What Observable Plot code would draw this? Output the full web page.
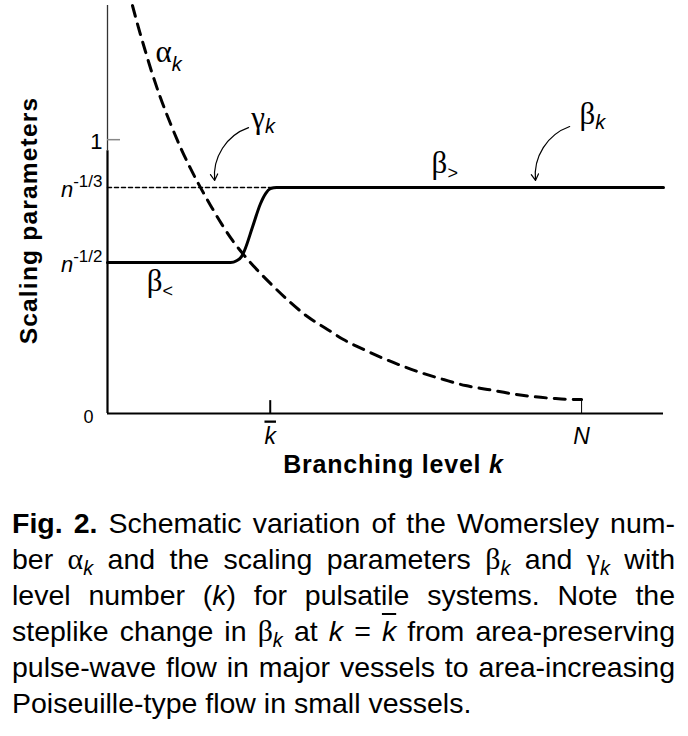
<!DOCTYPE html>
<html>
<head>
<meta charset="utf-8">
<script src="https://cdn.jsdelivr.net/npm/d3@7"></script>
<script src="https://cdn.jsdelivr.net/npm/@observablehq/plot@0.6"></script>
<style>
  html, body { margin: 0; padding: 0; background: #fff; overflow: hidden; }
  #chart { position: absolute; left: 0; top: 0; }
  #chart svg { display: block; }
  #caption { position: absolute; left: 12px; top: 505px; font-family: "Liberation Sans", Arial, sans-serif; font-size: 28.5px; color: #000; }
  #caption .ln { width: 663px; height: 36px; line-height: 36px; white-space: nowrap; text-align: justify; text-align-last: justify; transform-origin: 0 0; }
  #caption .ln.last { text-align-last: left; }
  #caption .gk { font-family: "Liberation Serif", serif; font-size: 1.05em; }
  #caption sub { font-size: 0.7em; font-style: italic; vertical-align: -0.28em; line-height: 0; }
  #caption .ov { text-decoration: overline; font-style: italic; }
  #caption b { font-weight: bold; }
</style>
</head>
<body>
<div id="chart"></div>
<div id="caption">
  <div class="ln"><b>Fig. 2.</b> Schematic variation of the Womersley num-</div>
  <div class="ln">ber <span class="gk">α</span><sub>k</sub> and the scaling parameters <span class="gk">β</span><sub>k</sub> and <span class="gk">γ</span><sub>k</sub> with</div>
  <div class="ln">level number (<i>k</i>) for pulsatile systems. Note the</div>
  <div class="ln">steplike change in <span class="gk">β</span><sub>k</sub> at <i>k</i> = <span class="ov">k</span> from area-preserving</div>
  <div class="ln">pulse-wave flow in major vessels to area-increasing</div>
  <div class="ln last">Poiseuille-type flow in small vessels.</div>
</div>
<script>
// ---- data (schematic values) ----
const alphaK = [0.92, 1.14, 1.40, 1.66, 1.95, 2.32, 2.69, 3.06, 3.43, 3.80, 4.24, 4.61, 5.01, 5.57, 6.12, 6.75, 7.37, 8.11, 8.70, 9.44, 10.18, 10.91, 11.65, 12.39, 13.20, 14.01, 14.86, 15.67, 16.45, 17.26, 17.48];
const alphaV = [1.490, 1.410, 1.322, 1.238, 1.154, 1.059, 0.972, 0.895, 0.825, 0.760, 0.687, 0.632, 0.581, 0.519, 0.464, 0.405, 0.354, 0.307, 0.270, 0.234, 0.201, 0.172, 0.146, 0.124, 0.102, 0.088, 0.073, 0.062, 0.055, 0.051, 0.051];
const betaK = [0, 4.54, 4.76, 4.94, 5.05, 5.35, 5.64, 5.83, 6.01, 6.24, 20.5];
const betaV = [0.551, 0.551, 0.558, 0.573, 0.595, 0.682, 0.766, 0.803, 0.821, 0.825, 0.825];
const gammaK = [0, 6.24];
const gammaV = [0.825, 0.825];

const kbar = 6.0;
const levelN = 17.48;
const xMax = 20.5;
const yMax = 1.49;

const yTickValues = [0.551, 0.825, 1];
const yTickLabels = ["*n*^{-1/2}", "*n*^{-1/3}", "1"];
const zeroLabel = "0";
const xTickValues = [kbar, levelN];
const xTickLabels = ["~{*k*}", "*N*"];

const curveLabels = ["α_{*k*}", "γ_{*k*}", "β_{*k*}", "β_{>}", "β_{<}"];
const curveLabelK = [1.77, 5.30, 17.40, 11.95, 1.45];
const curveLabelV = [1.282, 1.041, 1.056, 0.880, 0.446];

const arrowFromK = [5.20, 17.04];
const arrowFromV = [1.044, 1.048];
const arrowToK = [3.95, 15.78];
const arrowToV = [0.851, 0.851];

const xTitle = "Branching level *k*";
const yTitle = "Scaling parameters";

// ---- tables ----
const alpha = alphaK.map((k, i) => ({k, v: alphaV[i]}));
const beta = betaK.map((k, i) => ({k, v: betaV[i]}));
const gamma = gammaK.map((k, i) => ({k, v: gammaV[i]}));
const yTicks = yTickValues.map((v, i) => ({v, label: yTickLabels[i]}));
const xTicks = xTickValues.map((k, i) => ({k, label: xTickLabels[i]}));
const labels = curveLabels.map((t, i) => ({t, k: curveLabelK[i], v: curveLabelV[i]}));
const arrows = arrowFromK.map((k, i) => ({k1: k, v1: arrowFromV[i], k2: arrowToK[i], v2: arrowToV[i]}));

const chart = Plot.plot({
  width: 688,
  height: 490,
  marginLeft: 107,
  marginRight: 25,
  marginTop: 5,
  marginBottom: 77,
  x: {domain: [0, xMax], axis: null},
  y: {domain: [0, yMax], axis: null},
  style: {fontFamily: "Liberation Sans, Arial, sans-serif", background: "white", color: "black"},
  marks: [
    Plot.ruleY([0], {x1: 0, x2: xMax, stroke: "black", strokeWidth: 2}),
    Plot.ruleX([0], {y1: 0, y2: 0.96, stroke: "black", strokeWidth: 2.2}),
    Plot.ruleX([0], {y1: 0.96, y2: yMax, stroke: "#333", strokeWidth: 1.3}),
    Plot.ruleY([1], {x1: 0, x2: 0.48, stroke: "#888", strokeWidth: 1.5}),
    Plot.ruleX([kbar], {y1: 0, y2: 0.047, stroke: "black", strokeWidth: 2}),
    Plot.ruleX([levelN], {y1: 0, y2: 0.051, stroke: "black", strokeWidth: 1}),
    Plot.line(gamma, {x: "k", y: "v", stroke: "black", strokeWidth: 1.5, strokeDasharray: "4,3"}),
    Plot.line(alpha, {x: "k", y: "v", curve: "monotone-x", stroke: "black", strokeWidth: 3, strokeDasharray: "11,8"}),
    Plot.line(beta, {x: "k", y: "v", curve: "monotone-x", stroke: "black", strokeWidth: 3}),
    Plot.arrow(arrows, {x1: "k1", y1: "v1", x2: "k2", y2: "v2", bend: -38, headLength: 9, strokeWidth: 1.2, stroke: "black", insetStart: 0, insetEnd: 0}),
    Plot.text(labels, {x: "k", y: "v", text: "t", textAnchor: "start", lineAnchor: "bottom", fontFamily: "Liberation Serif, serif", fontSize: 31, fill: "black"}),
    Plot.text(yTicks, {x: 0, y: "v", text: "label", textAnchor: "end", lineAnchor: "middle", dx: -5, dy: 2, fontSize: 22, fill: "black"}),
    Plot.text([zeroLabel], {x: 0, y: 0, text: d => d, textAnchor: "middle", lineAnchor: "middle", dx: -19, dy: 4, fontSize: 18, fill: "black"}),
    Plot.text(xTicks, {x: "k", y: 0, text: "label", textAnchor: "middle", lineAnchor: "bottom", dy: 30, fontSize: 23, fill: "black"}),
    Plot.text([xTitle], {frameAnchor: "bottom", text: d => d, textAnchor: "middle", lineAnchor: "bottom", dx: 8, dy: 59, fontSize: 25, fontWeight: "bold", fill: "black"}),
    Plot.text([yTitle], {frameAnchor: "left", text: d => d, textAnchor: "middle", lineAnchor: "bottom", rotate: -90, dx: -71, dy: 11, fontSize: 24.5, fontWeight: "bold", fill: "black"})
  ]
});
document.getElementById("chart").appendChild(chart);

// ---- rich text: _{sub} ^{sup} *italic* ~{overline} ----
const sansFam = "Liberation Sans, Arial, sans-serif";
const richOpts = {
  "α_{*k*}": {sub: 9, subSize: 20, subFamily: sansFam},
  "γ_{*k*}": {sub: 5, subSize: 20, subFamily: sansFam},
  "β_{*k*}": {sub: 5, subSize: 20, subFamily: sansFam},
  "β_{>}": {sub: 6, subSize: 18, subFamily: sansFam},
  "β_{<}": {sub: 6, subSize: 18, subFamily: sansFam},
  "*n*^{-1/2}": {sup: 10, supSize: 17},
  "*n*^{-1/3}": {sup: 10, supSize: 17},
  "~{*k*}": {},
  "*N*": {},
  "Branching level *k*": {letterSpacing: 0.8},
  "Scaling parameters": {letterSpacing: 1.2}
};
d3.select(chart).selectAll("text").each(function() {
  const raw = this.textContent;
  const o = richOpts[raw];
  if (!o) return;
  if (o.letterSpacing) this.setAttribute("letter-spacing", o.letterSpacing);
  if (!/[_^*~]/.test(raw)) return;
  this.textContent = "";
  const parts = raw.split(/(_\{[^}]*\}|\^\{[^}]*\}|~\{[^}]*\}|\*[^*]+\*)/).filter(s => s);
  let shift = 0;
  for (const p of parts) {
    let txt = p, target = 0, italic = false, size = null, family = null, over = false;
    if (p.startsWith("_{")) { txt = p.slice(2, -1); target = o.sub; size = o.subSize; family = o.subFamily; }
    else if (p.startsWith("^{")) { txt = p.slice(2, -1); target = -o.sup; size = o.supSize; family = o.subFamily; }
    else if (p.startsWith("~{")) { txt = p.slice(2, -1); over = true; }
    else if (p.startsWith("*")) { txt = p.slice(1, -1); italic = true; }
    if (txt.length > 2 && txt.startsWith("*") && txt.endsWith("*")) { txt = txt.slice(1, -1); italic = true; }
    const t = d3.select(this).append("tspan").text(txt);
    if (target !== shift) { t.attr("dy", target - shift); shift = target; }
    if (italic) t.attr("font-style", "italic");
    if (size) t.attr("font-size", size);
    if (family) t.attr("font-family", family);
    if (over) t.style("text-decoration", "overline");
  }
});

// ---- caption: justify each line; compress a line that is too long ----
document.querySelectorAll("#caption .ln").forEach(ln => {
  const probe = document.createElement("span");
  probe.style.whiteSpace = "nowrap";
  probe.innerHTML = ln.innerHTML;
  document.getElementById("caption").appendChild(probe);
  const w = probe.getBoundingClientRect().width;
  probe.remove();
  if (w > 663) {
    ln.style.width = w + "px";
    ln.style.transform = `scaleX(${663 / w})`;
    ln.style.textAlignLast = "left";
  }
});
</script>
</body>
</html>
